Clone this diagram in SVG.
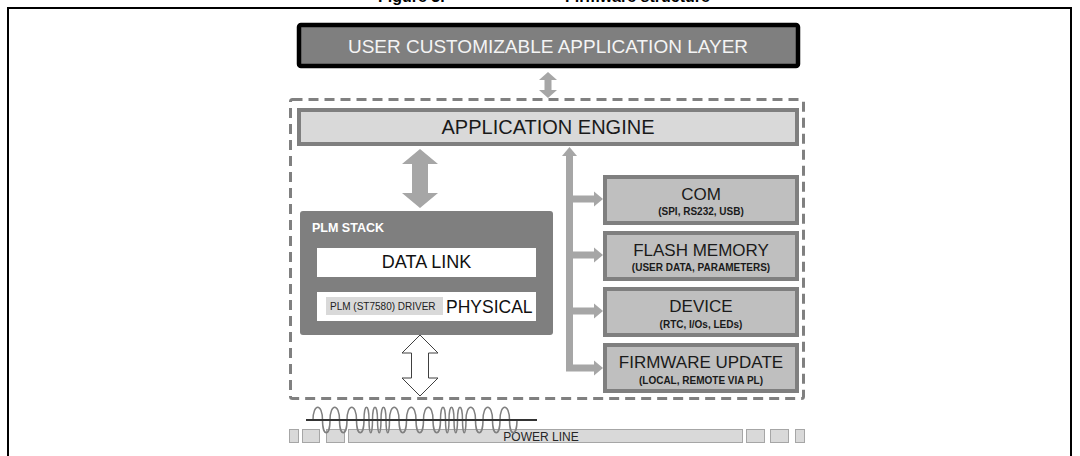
<svg xmlns="http://www.w3.org/2000/svg" width="1080" height="456" viewBox="0 0 1080 456">
<style>
  text { font-family: "Liberation Sans", Arial, sans-serif; }
  .title { font-weight: bold; font-size: 16px; fill: #000; }
  .frame { fill: none; stroke: #000; stroke-width: 2; }
  .toplayer { fill: #7f7f7f; stroke: #000; stroke-width: 4.5; }
  .toptext { font-size: 19px; fill: #f4f4f4; text-anchor: middle; }
  .dashed { fill: none; stroke: #808080; stroke-width: 3; stroke-dasharray: 10 6; }
  .engine { fill: #d9d9d9; stroke: #7f7f7f; stroke-width: 4; }
  .enginetext { font-size: 20px; fill: #1a1a1a; text-anchor: middle; }
  .garrow { fill: #a6a6a6; }
  .oarrow { fill: #fff; stroke: #404040; stroke-width: 1; }
  .plm { fill: #7f7f7f; }
  .plmtitle { font-size: 12.5px; font-weight: bold; fill: #fff; }
  .white { fill: #fff; }
  .drvbox { fill: #d9d9d9; }
  .big { font-size: 18px; fill: #111; }
  .drv { font-size: 10px; fill: #222; }
  .svc { fill: #bfbfbf; stroke: #7f7f7f; stroke-width: 4; }
  .svctitle { font-size: 17px; fill: #1a1a1a; text-anchor: middle; }
  .svcsub { font-size: 10px; font-weight: bold; fill: #1a1a1a; text-anchor: middle; }
  .wave { fill: none; stroke: #808080; stroke-width: 1.5; }
  .line { stroke: #333; stroke-width: 2; }
  .pl { fill: #d9d9d9; stroke: #a6a6a6; stroke-width: 1; }
  .pltext { font-size: 12px; fill: #262626; text-anchor: middle; }
</style>

<text class="title" x="378" y="2">Figure 3.</text>
<text class="title" x="565" y="2">Firmware structure</text>
<path class="frame" d="M8,460 V8 H1071 V460"/>

<g id="user-layer">
  <rect class="toplayer" x="299" y="25" width="499" height="41" rx="2"/>
  <text class="toptext" x="548" y="52.5">USER CUSTOMIZABLE APPLICATION LAYER</text>
</g>

<g id="firmware-boundary">
  <rect class="dashed" x="290.5" y="99.5" width="513" height="299" rx="2"/>
</g>

<g id="application-engine">
  <rect class="engine" x="299" y="110" width="498" height="34"/>
  <text class="enginetext" x="548" y="134">APPLICATION ENGINE</text>
</g>

<g id="plm-stack">
  <rect class="plm" x="300" y="211" width="253" height="124" rx="3"/>
  <text class="plmtitle" x="312" y="232">PLM STACK</text>
  <g id="data-link">
    <rect class="white" x="317" y="248" width="219" height="29"/>
    <text class="big" x="426.5" y="268" text-anchor="middle">DATA LINK</text>
  </g>
  <g id="physical">
    <rect class="white" x="317" y="292" width="219" height="29"/>
    <rect class="drvbox" x="326" y="297" width="117" height="18"/>
    <text class="drv" x="330" y="309.5">PLM (ST7580) DRIVER</text>
    <text class="big" x="446" y="312.5" style="font-size:17.5px">PHYSICAL</text>
  </g>
</g>

<g id="com">
  <rect class="svc" x="605" y="177" width="192" height="46"/>
  <text class="svctitle" x="701" y="200">COM</text>
  <text class="svcsub" x="701" y="215">(SPI, RS232, USB)</text>
</g>
<g id="flash-memory">
  <rect class="svc" x="605" y="233" width="192" height="46"/>
  <text class="svctitle" x="701" y="256">FLASH MEMORY</text>
  <text class="svcsub" x="701" y="271">(USER DATA, PARAMETERS)</text>
</g>
<g id="device">
  <rect class="svc" x="605" y="289" width="192" height="46"/>
  <text class="svctitle" x="701" y="312">DEVICE</text>
  <text class="svcsub" x="701" y="328">(RTC, I/Os, LEDs)</text>
</g>
<g id="firmware-update">
  <rect class="svc" x="605" y="345" width="192" height="46"/>
  <text class="svctitle" x="701" y="368">FIRMWARE UPDATE</text>
  <text class="svcsub" x="701" y="384">(LOCAL, REMOTE VIA PL)</text>
</g>

<g id="power-line">
  <rect class="pl" x="289.5" y="429.5" width="9" height="13"/>
  <rect class="pl" x="302.5" y="429.5" width="17" height="13"/>
  <rect class="pl" x="326.5" y="429.5" width="18" height="13"/>
  <rect class="pl" x="348.5" y="429.5" width="394" height="13"/>
  <rect class="pl" x="746.5" y="429.5" width="18" height="13"/>
  <rect class="pl" x="770.5" y="429.5" width="18" height="13"/>
  <rect class="pl" x="795.5" y="429.5" width="9" height="13"/>
  <text class="pltext" x="541" y="440.5">POWER LINE</text>
  <path class="wave" d="M313,420
    c0,-17 9.5,-17 9.5,0 c0,17 7.5,17 7.5,0
    c0,-17 9.5,-17 9.5,0 c0,17 7.5,17 7.5,0
    c0,-17 9.5,-17 9.5,0 c0,17 7.5,17 7.5,0
    c0,-17 5,-17 5,0 c0,17 3.5,17 3.5,0
    c0,-17 5,-17 5,0 c0,17 3.5,17 3.5,0
    c0,-17 5,-17 5,0 c0,17 3.5,17 3.5,0
    c0,-17 9.5,-17 9.5,0 c0,17 7.5,17 7.5,0
    c0,-17 9.5,-17 9.5,0 c0,17 7.5,17 7.5,0
    c0,-17 9.5,-17 9.5,0 c0,17 7.5,17 7.5,0
    c0,-17 5,-17 5,0 c0,17 3.5,17 3.5,0
    c0,-17 5,-17 5,0 c0,17 3.5,17 3.5,0
    c0,-17 5,-17 5,0 c0,17 3.5,17 3.5,0
    c0,-17 9.5,-17 9.5,0 c0,17 7.5,17 7.5,0
    c0,-17 9.5,-17 9.5,0 c0,17 7.5,17 7.5,0
    c0,-17 9.5,-17 9.5,0 c0,17 7.5,17 7.5,0"/>
  <line class="line" x1="306" y1="420" x2="537" y2="420"/>
</g>

<g id="connectors">
  <polygon class="garrow" points="548,72 557,80 551.5,80 551.5,90 557,90 548,98 539,90 544.5,90 544.5,80 539,80"/>
  <polygon class="garrow" points="420,149 438,164 428,164 428,193 438,193 420,208 402,193 412,193 412,164 402,164"/>
  <polygon class="oarrow" points="420,335 438,353 428.5,353 428.5,378 438,378 420,396 402,378 411.5,378 411.5,353 402,353"/>
  <g class="garrow">
    <polygon points="569.5,147 577,156 562,156"/>
    <rect x="566" y="155" width="7" height="216.5"/>
    <rect x="573" y="195.5" width="21" height="7"/>
    <polygon points="594,191.5 603,199 594,206.5"/>
    <rect x="573" y="251.5" width="21" height="7"/>
    <polygon points="594,247.5 603,255 594,262.5"/>
    <rect x="573" y="307.5" width="21" height="7"/>
    <polygon points="594,303.5 603,311 594,318.5"/>
    <rect x="573" y="364.5" width="21" height="7"/>
    <polygon points="594,360.5 603,368 594,375.5"/>
  </g>
</g>
</svg>
